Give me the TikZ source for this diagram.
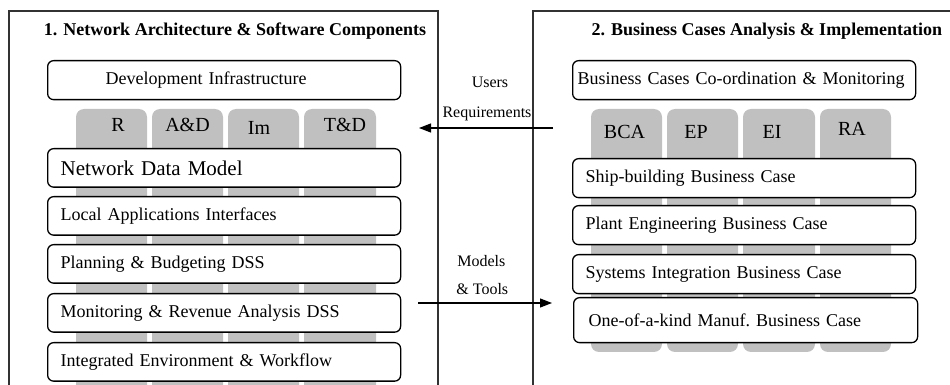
\documentclass[tikz,border=0pt]{standalone}
\usepackage{fontspec}
\setmainfont{Liberation Serif}
\usepackage{tikz}
\usetikzlibrary{arrows.meta}
\definecolor{tabgray}{RGB}{192,192,192}
\definecolor{framegray}{RGB}{50,50,50}

\begin{document}
\begin{tikzpicture}[
  x=0.5pt,y=-0.5pt,
  >={Triangle[length=6pt,width=4.5pt]},
  frame/.style={draw=framegray,line width=0.6pt},
  tab/.style={fill=tabgray,rounded corners=4pt},
  tablabel/.style={font=\fontsize{10}{12}\selectfont,inner sep=0pt},
  layer/.style={draw,fill=white,rounded corners=3pt,line width=0.65pt,anchor=north west,align=left,inner xsep=6.5pt,inner ysep=0pt,font=\fontsize{9}{11}\selectfont},
  layerL/.style={layer,text width=163.5pt,minimum height=19.25pt},
  layerR/.style={layer,text width=158.5pt,minimum height=19.5pt},
  title/.style={font=\fontsize{9}{11}\selectfont\bfseries,anchor=base},
  flowlabel/.style={font=\fontsize{8}{10}\selectfont,anchor=base,inner sep=0pt},
  flow/.style={->,line width=0.6pt}
]
  \useasboundingbox (0,0) rectangle (950,385);

  % --- Panel frames and gray columns (cut by the page) ---
  \begin{scope}
    \clip (0,0) rectangle (950,385);
    \draw[frame] (9,400) -- (9,11) -- (438,11) -- (438,400);
    \draw[frame] (533,400) -- (533,11) -- (970,11);
    \foreach \xa/\xb in {76/147,152/223,228/299,304/376}
      \fill[tab] (\xa,109) rectangle (\xb,420);
    \foreach \xa/\xb in {591/662,667/738,743/815,820/891}
      \fill[tab] (\xa,109) rectangle (\xb,352);
  \end{scope}

  % --- Titles ---
  \node[title] (archtitle) at (235,36) {1. Network Architecture \& Software Components};
  \node[title] (bctitle)   at (767,36) {2. Business Cases Analysis \& Implementation};

  % --- Left panel: layers ---
  \node[layerL,minimum height=19.5pt] (devinfra) at (47,60) {\hspace*{22.5pt}Development Infrastructure};
  \node[layerL,font=\fontsize{10.5}{12}\selectfont] (netmodel) at (47,148) {Network Data Model};
  \node[layerL] (localapps)  at (47,196) {Local Applications Interfaces};
  \node[layerL] (planning)   at (47,244) {Planning \& Budgeting DSS};
  \node[layerL] (monitoring) at (47,293) {Monitoring \& Revenue Analysis DSS};
  \node[layerL] (workflow)   at (47,342) {Integrated Environment \& Workflow};

  % --- Left panel: column labels ---
  \node[tablabel] (tR)  at (118,125)   {R};
  \node[tablabel] (tAD) at (187.5,125) {A\&D};
  \node[tablabel] (tIm) at (259,128)   {Im};
  \node[tablabel] (tTD) at (345,125)   {T\&D};

  % --- Right panel: layers ---
  \node[layer,text width=166.5pt,inner xsep=2.5pt,minimum height=19.5pt] (coord) at (572,60) {Business Cases Co-ordination \& Monitoring};
  \node[layerR] (ship)   at (572,158) {Ship-building Business Case};
  \node[layerR] (plant)  at (572,205) {Plant Engineering Business Case};
  \node[layerR] (sysint) at (572,254) {Systems Integration Business Case};
  \node[layerR,text width=157pt,inner xsep=7.5pt,minimum height=22.5pt] (oneoff) at (573,297) {One-of-a-kind Manuf.\ Business Case};

  % --- Right panel: column labels ---
  \node[tablabel] (tBCA) at (624.5,131.5) {BCA};
  \node[tablabel] (tEP)  at (696,131.5)   {EP};
  \node[tablabel] (tEI)  at (772,132)     {EI};
  \node[tablabel] (tRA)  at (852,128.5)   {RA};

  % --- Flows between the panels ---
  \coordinate (reqfrom) at (553,128);
  \coordinate (reqto)   at (419,128);
  \draw[flow] (reqfrom) -- (reqto);
  \node[flowlabel] (users)        at (490,88)  {Users};
  \node[flowlabel] (requirements) at (487,118) {Requirements};

  \coordinate (toolsfrom) at (418,303);
  \coordinate (toolsto)   at (552,303);
  \draw[flow] (toolsfrom) -- (toolsto);
  \node[flowlabel,anchor=base west] (models) at (457,267) {Models};
  \node[flowlabel,anchor=base west] (tools)  at (456,295) {\& Tools};
\end{tikzpicture}
\end{document}
